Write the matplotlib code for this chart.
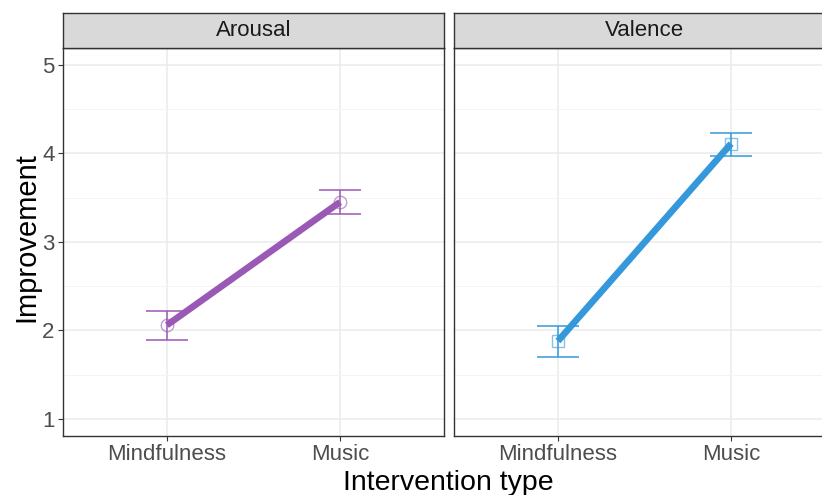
import numpy as np
import matplotlib
matplotlib.use("Agg")
import matplotlib.pyplot as plt

plt.rcParams['font.family'] = ['Liberation Sans', 'DejaVu Sans']

# data
facets = ['Arousal', 'Valence']
interventions = ['Mindfulness', 'Music']
means = {'Arousal': [2.06, 3.45], 'Valence': [1.88, 4.11]}
lower = {'Arousal': [1.89, 3.31], 'Valence': [1.70, 3.97]}
upper = {'Arousal': [2.22, 3.59], 'Valence': [2.05, 4.23]}
colors = {'Arousal': '#9B59B6', 'Valence': '#3498DB'}
markers = {'Arousal': 'o', 'Valence': 's'}

W, H = 822, 495
fig = plt.figure(figsize=(W / 100, H / 100), dpi=100)

def px(x0, y0, w, h):
    return [x0 / W, (H - y0 - h) / H, w / W, h / H]

panel_x = [63, 454]
for i, facet in enumerate(facets):
    x0 = panel_x[i]
    ax = fig.add_axes(px(x0, 48, 381, 388))
    xs = np.arange(1, len(interventions) + 1)
    c = colors[facet]
    ax.plot(xs, means[facet], color=c, lw=4.8, solid_capstyle='butt', zorder=3)
    yerr = [np.array(means[facet]) - np.array(lower[facet]),
            np.array(upper[facet]) - np.array(means[facet])]
    ax.errorbar(xs, means[facet], yerr=yerr, fmt='none', ecolor=c,
                elinewidth=1.1, capsize=15, capthick=1.1, zorder=4)
    ax.plot(xs, means[facet], linestyle='none', marker=markers[facet],
            markersize=9, markerfacecolor='none', markeredgecolor=c,
            markeredgewidth=1.0, alpha=0.6, zorder=5)

    ax.set_xlim(0.4, 2.6)
    ax.set_ylim(0.808, 5.19)
    ax.set_xticks(xs)
    ax.set_xticklabels(interventions)
    ax.set_yticks([1, 2, 3, 4, 5])
    ax.set_yticks([1.5, 2.5, 3.5, 4.5], minor=True)
    ax.grid(True, which='major', color='#EBEBEB', lw=1.1)
    ax.grid(True, which='minor', axis='y', color='#F4F4F4', lw=0.7)
    ax.set_axisbelow(True)
    ax.tick_params(axis='both', which='major', length=3.5, color='#333333',
                   labelsize=16, labelcolor='#4D4D4D', width=0.8, pad=2.5)
    ax.tick_params(axis='y', which='minor', length=0)
    if i > 0:
        ax.tick_params(axis='y', labelleft=False, left=False)
    for s in ax.spines.values():
        s.set_color('#333333')
        s.set_linewidth(1.0)

    sax = fig.add_axes(px(x0, 13, 381, 35))
    sax.set_facecolor('#D9D9D9')
    sax.set_xticks([])
    sax.set_yticks([])
    for s in sax.spines.values():
        s.set_color('#333333')
        s.set_linewidth(1.0)
    sax.text(0.5, 0.5, facet, ha='center', va='center', fontsize=16,
             color='#1A1A1A', transform=sax.transAxes)

fig.text(448 / W, 1 - 483 / H, 'Intervention type', ha='center', va='center',
         fontsize=20.5)
fig.text(26 / W, 1 - 237 / H, 'Improvement', ha='center', va='center',
         fontsize=21, rotation=90)

fig.savefig('out.png', dpi=100)
